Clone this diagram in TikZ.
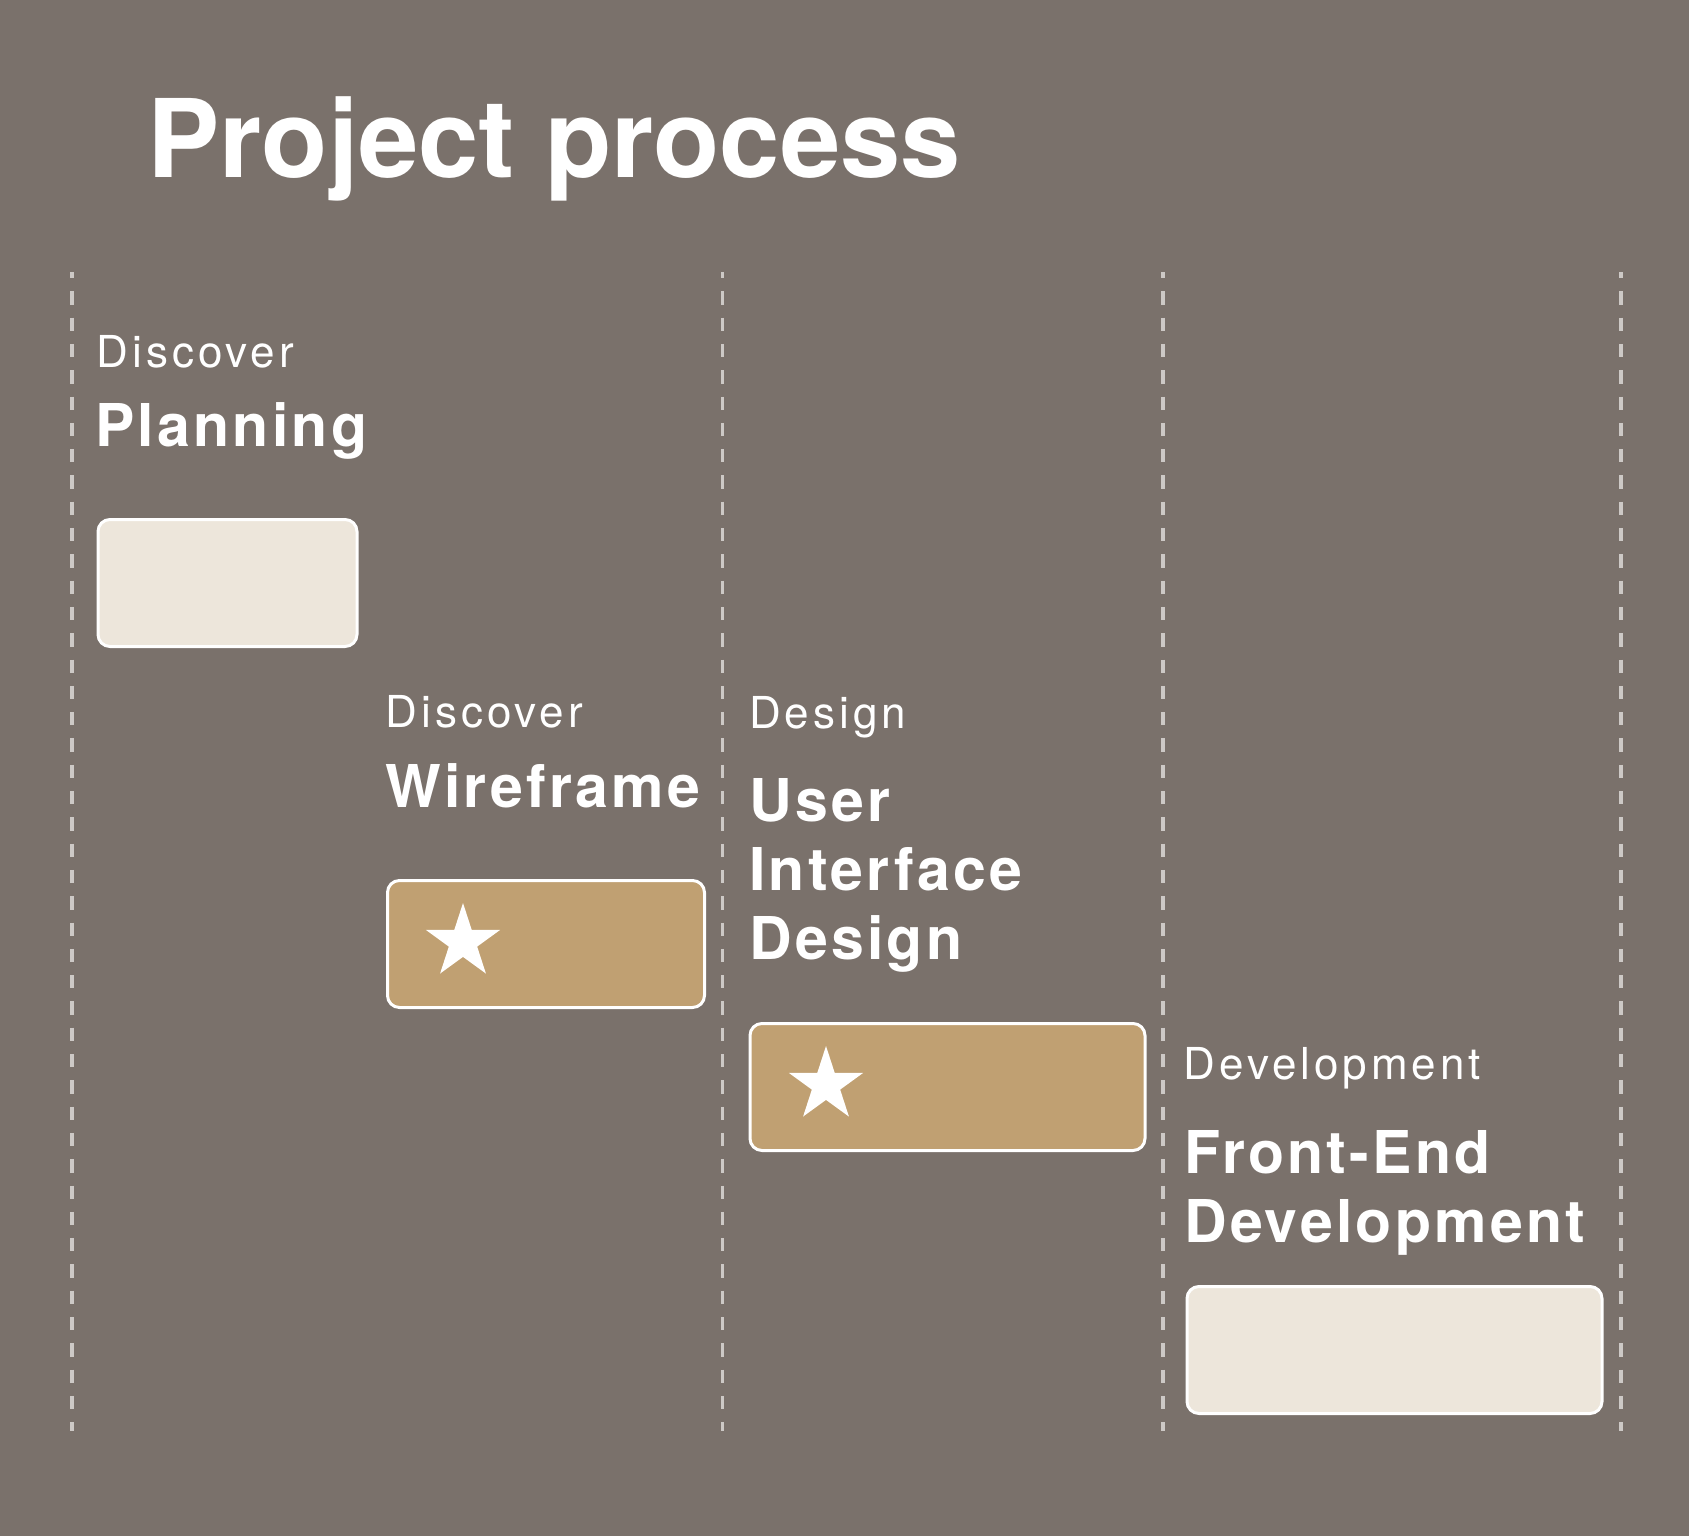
\documentclass[tikz,border=0pt]{standalone}
\usepackage{fontspec}
\setmainfont{TeX Gyre Heros}
\newfontfamily\lblfont[LetterSpace=9]{TeX Gyre Heros}
\newfontfamily\hdfont[LetterSpace=5.5]{TeX Gyre Heros}
\usetikzlibrary{shapes.geometric}
\definecolor{bgcol}{HTML}{7A716B}
\definecolor{creamcol}{HTML}{EDE6DB}
\definecolor{goldcol}{HTML}{C0A072}
\definecolor{dashcol}{HTML}{CDC9C6}
\begin{document}
\begin{tikzpicture}[x=1pt,y=-1pt,
  titletext/.style={anchor=base west, inner sep=0pt, text=white, font=\bfseries\fontsize{108.5}{120}\selectfont},
  lbl/.style={anchor=base west, inner sep=0pt, text=white, font=\lblfont\fontsize{44}{52}\selectfont},
  hd/.style={anchor=base west, inner sep=0pt, text=white, align=left, font=\hdfont\bfseries\fontsize{59}{69}\selectfont},
  card/.style={draw=white, line width=3pt, rounded corners=12pt, anchor=north west, inner sep=0pt, minimum height=127pt},
  creamcard/.style={card, fill=creamcol},
  goldcard/.style={card, fill=goldcol},
  starmark/.style={star, star points=5, star point ratio=2.618, minimum size=78pt, inner sep=0pt, fill=white},
  dashline/.style={draw=dashcol, line width=3.5pt, dash pattern=on 13.3pt off 13pt, dash phase=7pt}
]
\fill[bgcol] (0,0) rectangle (1689,1536);
\useasboundingbox (0,0) rectangle (1689,1536);

% dashed column separators
\coordinate (d1t) at (72,272);   \coordinate (d1b) at (72,1431);
\coordinate (d2t) at (722.5,272); \coordinate (d2b) at (722.5,1431);
\coordinate (d3t) at (1163,272); \coordinate (d3b) at (1163,1431);
\coordinate (d4t) at (1621,272); \coordinate (d4b) at (1621,1431);
\draw[dashline] (d1t) -- (d1b);
\draw[dashline] (d2t) -- (d2b);
\draw[dashline] (d3t) -- (d3b);
\draw[dashline] (d4t) -- (d4b);

% title
\node[titletext] (title) at (147,177) {Project process};

% column 1
\node[lbl] (l1) at (96.5,367) {Discover};
\node[hd] (h1) at (95,446) {Planning};
\node[creamcard, minimum width=259pt] (b1) at (96.5,518) {};

% column 2
\node[lbl] (l2) at (385.5,727) {Discover};
\node[hd] (h2) at (385,807) {Wireframe};
\node[goldcard, minimum width=317pt] (b2) at (386,879) {};
\node[starmark] (s2) at (463,942) {};

% column 3
\node[lbl] (l3) at (749,728) {Design};
\node[hd] (h3) at (749,959) {User\\Interface\\Design};
\node[goldcard, minimum width=395pt] (b3) at (748.5,1022) {};
\node[starmark] (s3) at (826,1085) {};

% column 4
\node[lbl] (l4) at (1183.5,1079) {Development};
\node[hd] (h4) at (1184,1242) {Front-End\\Development};
\node[creamcard, minimum width=415pt] (b4) at (1185.5,1285) {};
\end{tikzpicture}
\end{document}
